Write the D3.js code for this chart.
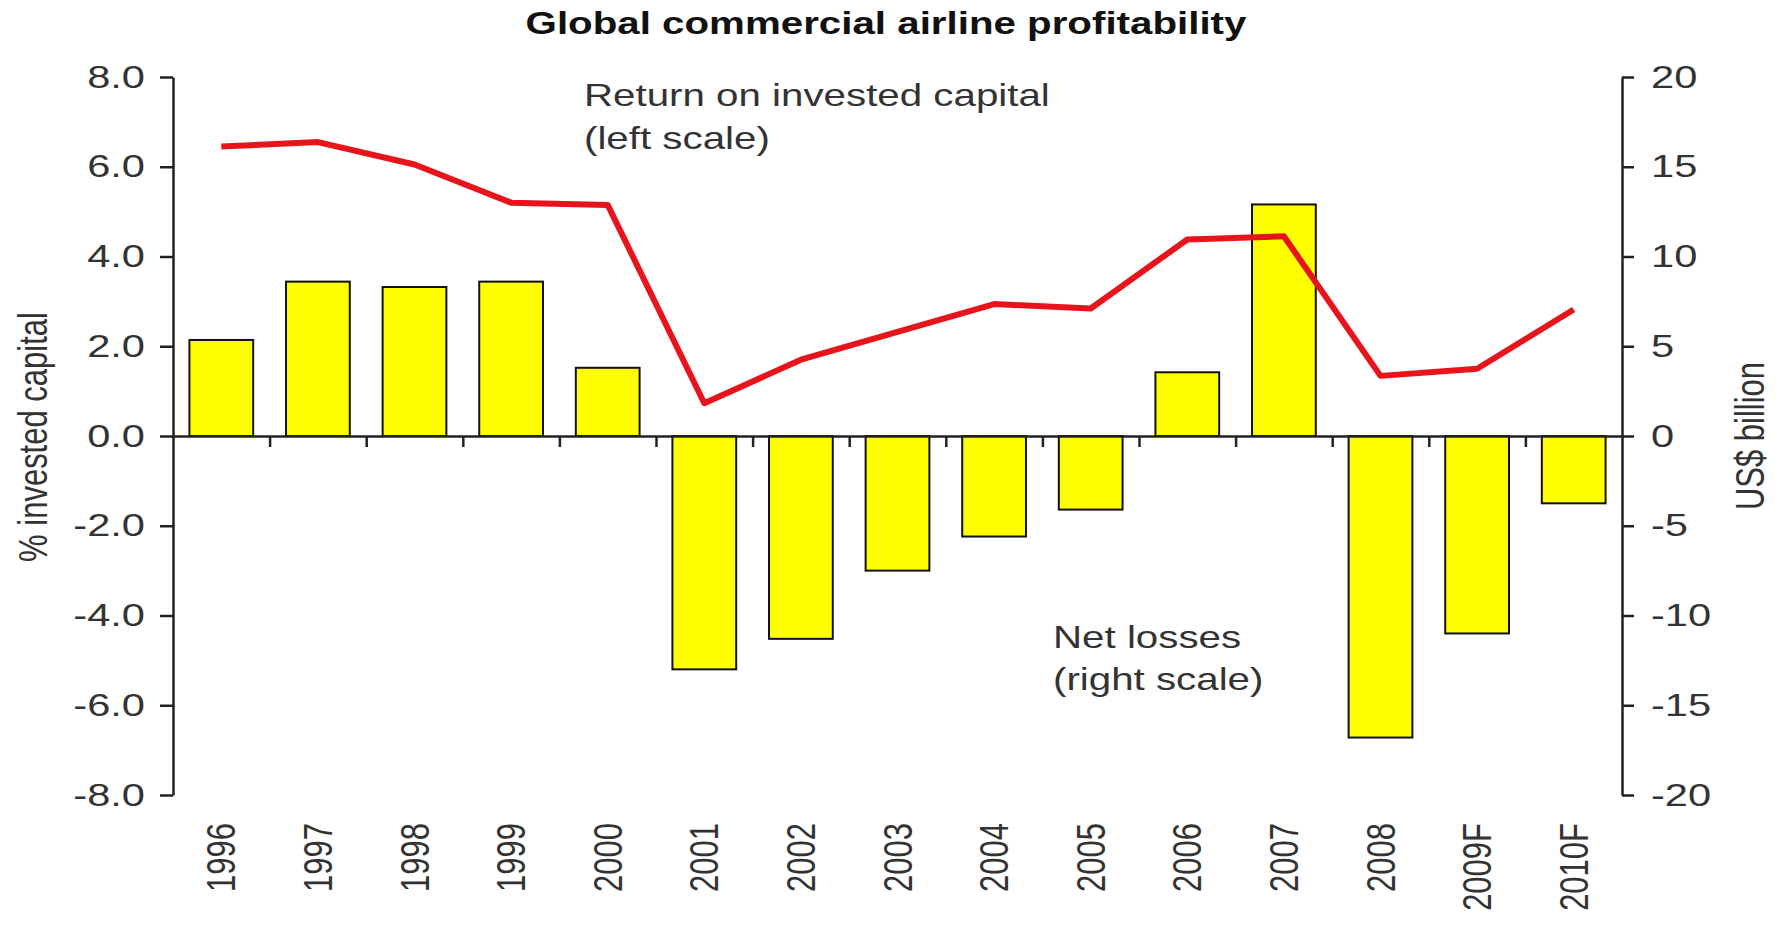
<!DOCTYPE html>
<html lang="en">
<head>
    <meta charset="UTF-8">
    <title>Global commercial airline profitability</title>
    <script src="https://d3js.org/d3.v7.min.js"></script>
    <style>
        body { margin: 0; background: #fff; }
        svg { display: block; font-family: "Liberation Sans", Arial, sans-serif; }
        .axis path, .axis line { stroke: #222; stroke-width: 2.5px; }
        .axis text { fill: #333; font-size: 32px; }
        .note { fill: #333; font-size: 31px; }
    </style>
</head>
<body>
    <script>
        // Data
        const years = ["1996", "1997", "1998", "1999", "2000", "2001", "2002", "2003",
                       "2004", "2005", "2006", "2007", "2008", "2009F", "2010F"];
        // Net profit / losses, US$ billion (right scale)
        const netLosses = [5.35, 8.6, 8.3, 8.6, 3.8, -13.0, -11.3, -7.5,
                           -5.6, -4.1, 3.55, 12.9, -16.8, -11.0, -3.75];
        // Return on invested capital, % (left scale)
        const roic = [6.45, 6.55, 6.05, 5.2, 5.15, 0.73, 1.7, 2.32,
                      2.94, 2.84, 4.38, 4.45, 1.34, 1.5, 2.82];
        const leftTicks = [8, 6, 4, 2, 0, -2, -4, -6, -8];
        const rightTicks = [20, 15, 10, 5, 0, -5, -10, -15, -20];

        const width = 1779, height = 925;
        const sx = 1.3; // the source picture is stretched sideways, so is the text
        const plotLeft = 173, plotRight = 1622, plotTop = 77, plotBottom = 795;

        const svg = d3.select("body").append("svg")
            .attr("width", width)
            .attr("height", height);

        const x = d3.scaleBand()
            .domain(years)
            .range([plotLeft, plotRight])
            .paddingInner(0.34)
            .paddingOuter(0.17);

        const yL = d3.scaleLinear().domain([-8, 8]).range([plotBottom, plotTop]);
        const yR = d3.scaleLinear().domain([-20, 20]).range([plotBottom, plotTop]);

        // stretched text helper
        function stretch(sel, tx, ty, rot) {
            sel.attr("x", 0).attr("y", 0)
               .attr("transform", `translate(${tx},${ty}) scale(${sx},1)` + (rot ? ` rotate(${rot})` : ""));
        }

        // bars (right scale)
        svg.append("g").selectAll("rect")
            .data(netLosses)
            .join("rect")
            .attr("x", (d, i) => x(years[i]))
            .attr("width", x.bandwidth())
            .attr("y", d => yR(Math.max(0, d)))
            .attr("height", d => Math.abs(yR(d) - yR(0)))
            .attr("fill", "#ffff00")
            .attr("stroke", "#111")
            .attr("stroke-width", 2);

        // zero line with category separators
        const idx = d3.scaleLinear().domain([0, years.length]).range([plotLeft, plotRight]);
        svg.append("g")
            .attr("class", "axis")
            .attr("transform", `translate(0,${yL(0)})`)
            .call(d3.axisBottom(idx).tickValues(d3.range(1, years.length)).tickSize(11).tickSizeOuter(0).tickFormat(""));

        // left axis
        const gl = svg.append("g")
            .attr("class", "axis")
            .attr("transform", `translate(${plotLeft},0)`)
            .call(d3.axisLeft(yL).tickValues(leftTicks).tickSize(13).tickSizeOuter(0).tickFormat(d3.format(".1f")));
        gl.selectAll(".tick text").attr("dy", null).each(function () {
            stretch(d3.select(this), -28, 10);
        });

        // right axis
        const gr = svg.append("g")
            .attr("class", "axis")
            .attr("transform", `translate(${plotRight},0)`)
            .call(d3.axisRight(yR).tickValues(rightTicks).tickSize(12).tickSizeOuter(0));
        gr.selectAll(".tick text").attr("dy", null).each(function () {
            stretch(d3.select(this), 29, 10);
        });

        // plain hyphen for negatives, like the source
        svg.selectAll(".axis .tick text").text(function () { return this.textContent.replace("\u2212", "-"); });

        // category labels, rotated
        svg.append("g").selectAll("text")
            .data(years)
            .join("text")
            .attr("class", "note")
            .attr("font-size", 33)
            .attr("text-anchor", "end")
            .attr("dy", "0.35em")
            .text(d => d)
            .each(function (d) {
                stretch(d3.select(this), x(d) + x.bandwidth() / 2, 823, -90);
            });

        // ROIC line
        const line = d3.line()
            .x((d, i) => x(years[i]) + x.bandwidth() / 2)
            .y(d => yL(d));
        svg.append("path")
            .datum(roic)
            .attr("d", line)
            .attr("fill", "none")
            .attr("stroke", "#e8141b")
            .attr("stroke-width", 6)
            .attr("stroke-linejoin", "round");

        // title
        svg.append("text")
            .attr("text-anchor", "middle")
            .attr("font-size", 31)
            .attr("font-weight", "bold")
            .attr("fill", "#111")
            .text("Global commercial airline profitability")
            .call(stretch, 886, 34);

        // axis titles
        svg.append("text")
            .attr("class", "note")
            .attr("font-size", 36.5)
            .attr("text-anchor", "middle")
            .attr("dy", "0.35em")
            .text("% invested capital")
            .call(stretch, 33, 437, -90);

        svg.append("text")
            .attr("class", "note")
            .attr("font-size", 36.5)
            .attr("text-anchor", "middle")
            .attr("dy", "0.35em")
            .text("US$ billion")
            .call(stretch, 1750, 436, -90);

        // annotations
        const notes = [
            { t: "Return on invested capital", x: 584, y: 106 },
            { t: "(left scale)", x: 584, y: 149 },
            { t: "Net losses", x: 1053, y: 648 },
            { t: "(right scale)", x: 1053, y: 690 }
        ];
        svg.append("g").selectAll("text")
            .data(notes)
            .join("text")
            .attr("class", "note")
            .text(d => d.t)
            .each(function (d) { stretch(d3.select(this), d.x, d.y); });
    </script>
</body>
</html>
